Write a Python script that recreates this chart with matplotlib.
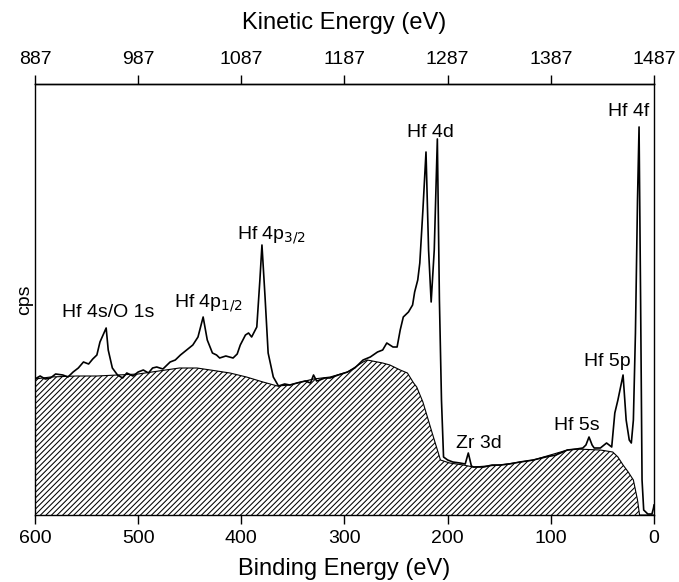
import matplotlib
matplotlib.use("Agg")
import matplotlib.pyplot as plt
import numpy as np

plt.rcParams['font.family'] = ['Liberation Sans', 'DejaVu Sans']
plt.rcParams['hatch.linewidth'] = 0.75

# survey spectrum, binding energy (eV) vs intensity (arb. units)
be_spec = [600, 595, 590, 585, 580, 573, 568, 563, 558, 553, 548, 544, 540, 537, 534, 531,
           529, 525, 520, 515, 511, 505, 500, 495, 490, 486, 482, 476, 469, 464, 459, 453,
           447, 442, 437, 433, 428, 424, 421, 415, 408, 404, 401, 396, 393, 390, 385, 382,
           380, 377, 374, 369, 364, 358, 353, 346, 338, 333, 330, 327, 324, 319, 314, 306,
           297, 290, 282, 275, 268, 263, 259, 253, 249, 246, 243, 238, 234, 232, 229, 227,
           224, 221, 218.5, 216, 213, 210, 208, 206, 204, 200, 195, 188, 183, 180, 177, 175,
           165, 157, 149, 140, 130, 117, 105, 95, 84, 75, 69, 66, 63, 60, 58, 52, 46, 41,
           38, 35, 33, 30, 27, 24, 22, 20, 18, 16, 14.5, 13, 11.6, 10, 6, 2, 0.5, 0]
i_spec = [136, 139, 136, 137, 141, 140, 138, 143, 147, 153, 151, 156, 160, 173, 180, 187,
          165, 147, 140, 137, 142, 139, 143, 145, 142, 147, 148, 146, 153, 155, 160, 165,
          170, 178, 198, 175, 162, 160, 157, 159, 157, 161, 170, 180, 182, 178, 188, 235,
          270, 218, 162, 138, 129, 131, 130, 132, 134, 132, 140, 134, 135, 137, 137, 140,
          143, 147, 155, 158, 163, 165, 172, 168, 168, 185, 198, 203, 210, 223, 235, 252,
          305, 363, 265, 213, 265, 376, 215, 115, 58, 55, 53, 52, 51, 62, 49, 48,
          48, 50, 50, 51, 53, 55, 58, 60, 65, 66, 67, 70, 78, 70, 67, 67, 72, 68,
          102, 115, 125, 140, 95, 75, 72, 95, 182, 315, 388, 215, 35, 5, 1, 1, 7, 10]

# inelastic background (hatched area)
be_bg = [600, 585, 560, 540, 520, 500, 480, 460, 443, 430, 411, 395, 379, 365, 353, 346,
         330, 314, 297, 282, 278, 263, 256, 246, 239, 233, 230, 224, 215, 207, 198, 185,
         175, 149, 117, 84, 75, 52, 40, 35, 30, 25, 20, 16, 14, 0]
i_bg = [136, 138, 139, 139, 140, 141, 144, 147, 147, 145, 142, 138, 133, 129, 130, 132,
        136, 138, 143, 153, 155, 152, 150, 145, 142, 132, 128, 113, 82, 55, 52, 50,
        48, 50, 55, 65, 66, 65, 63, 58, 50, 43, 35, 15, 0, 0]

be_ticks = [600, 500, 400, 300, 200, 100, 0]
ke_ticks = [887, 987, 1087, 1187, 1287, 1387, 1487]
photon = 1487

peak_labels = [
    ("Hf 4s/O 1s", 529, 198, "center"),
    (r"Hf 4p$_{1/2}$", 465, 208, "left"),
    (r"Hf 4p$_{3/2}$", 404, 276, "left"),
    ("Hf 4d", 217, 378, "center"),
    ("Hf 4f", 4.5, 399, "right"),
    ("Hf 5p", 45.5, 149, "center"),
    ("Hf 5s", 74.6, 85, "center"),
    ("Zr 3d", 169.6, 67, "center"),
]

fig = plt.figure(figsize=(6.79, 5.82), dpi=100)
ax = fig.add_axes([0.0515, 0.1151, 0.9117, 0.7406])

ax.fill_between(be_bg, 0, i_bg, facecolor='white', edgecolor='black',
                hatch='//////', linewidth=0)
ax.plot(be_bg, i_bg, color='black', lw=0.8)
ax.plot(be_spec, i_spec, color='black', lw=1.2)

for txt, x, y, ha in peak_labels:
    ax.text(x, y, txt, fontsize=14, ha=ha, va='baseline')

ax.set_xlim(600, 0)
ax.set_ylim(0, 431)
ax.set_yticks([])
ax.set_xticks(be_ticks)
ax.tick_params(axis='x', direction='out', length=6.5, width=1, labelsize=14, pad=4)
for s in ax.spines.values():
    s.set_linewidth(1.0)
ax.set_xlabel("Binding Energy (eV)", fontsize=17, labelpad=8)
ax.set_ylabel("cps", fontsize=14, labelpad=1)

sec = ax.secondary_xaxis('top', functions=(lambda b: photon - b, lambda k: photon - k))
sec.set_xticks(ke_ticks)
sec.tick_params(direction='out', length=6.5, width=1, labelsize=14, pad=5)
sec.spines['top'].set_linewidth(1.0)
sec.set_xlabel("Kinetic Energy (eV)", fontsize=17, labelpad=16)

fig.savefig("out.png", dpi=100)
